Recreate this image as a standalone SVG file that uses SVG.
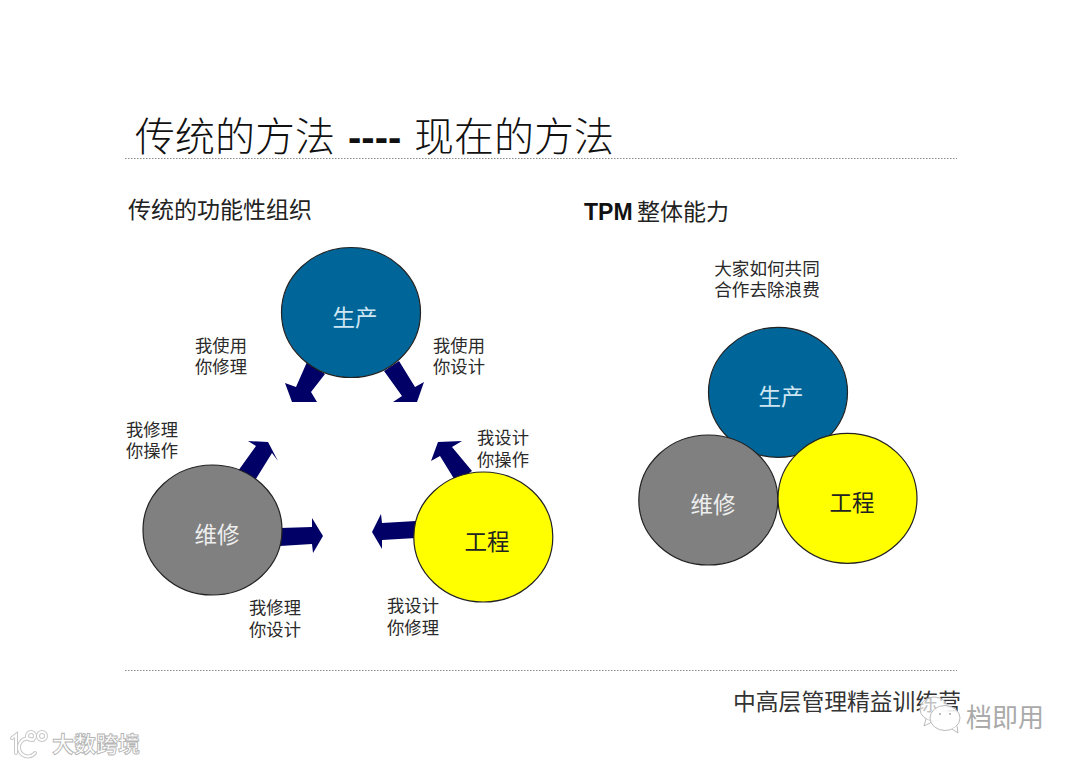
<svg xmlns="http://www.w3.org/2000/svg" width="1080" height="764" viewBox="0 0 1080 764">
<style>
text{font-family:"Liberation Sans","Noto Sans CJK SC",sans-serif;fill:#222}
.c{font-family:"Noto Sans CJK SC","Liberation Sans",sans-serif}
.title{font-size:40px;fill:#111;font-weight:300}
.sub{font-size:23px}
.lbl{font-size:17.300px;text-anchor:middle;fill:#2a2a2a}
.node{font-size:22.500px;text-anchor:middle}
.rule{stroke:#8a8a8a;stroke-width:1.2;stroke-dasharray:1.5 1.5;fill:none}
.arr{fill:#000066}
.circ{stroke:#222;stroke-width:1.2}
.blue{fill:#006699}.grey{fill:#808080}.yel{fill:#ffff00}
.wm{fill:#fff;stroke:#b5b5b5;stroke-width:.9}
.wo{fill:none;stroke:#c8c8c8;stroke-width:4;stroke-linecap:round}
.wl{fill:none;stroke:#fff;stroke-width:2;stroke-linecap:round}
</style>
<rect width="1080" height="764" fill="#fff"/>
<g id="title">
<text class="c title" x="135" y="151">传统的方法</text>
<text class="title" x="348" y="151" style="font-weight:700">----</text>
<text class="c title" x="414" y="151">现在的方法</text>
</g>
<g id="rules">
<line class="rule" x1="125" y1="158.500" x2="957" y2="158.500"/>
<line class="rule" x1="125" y1="670.500" x2="957" y2="670.500"/>
</g>
<text class="c sub" x="128" y="218">传统的功能性组织</text>
<text class="sub" x="584" y="220" style="font-weight:700;fill:#111">TPM</text>
<text class="c sub" x="637" y="220">整体能力</text>
<g id="connectors">
<polygon class="arr" points="307,362 325,374 311,392 317,402 292,402 285,383 296,387"/>
<polygon class="arr" points="399,361 384,371 402,396 393,402 417,402 424,382 415,387"/>
<polygon class="arr" points="238,471 254,482 272,453 278,461 268,442 248,441 256,446"/>
<polygon class="arr" points="472,471 456,482 440,456 431,461 438,442 462,441 452,447"/>
<polygon class="arr" points="280,528 312,527 312,518 323,536 313,553 312,544 280,546"/>
<polygon class="arr" points="416,521 382,523 381,514 372,532 382,549 382,540 416,538"/>
</g>
<g id="left-production"><ellipse class="circ blue" cx="351" cy="312.500" rx="69.500" ry="65"/><text class="c node" x="355" y="326" style="fill:#cfe6f2">生产</text></g>
<g id="left-maintenance"><ellipse class="circ grey" cx="212.500" cy="530" rx="69.500" ry="65"/><text class="c node" x="217" y="543" style="fill:#eee">维修</text></g>
<g id="left-engineering"><ellipse class="circ yel" cx="483.300" cy="537" rx="69.500" ry="65"/><text class="c node" x="487" y="550" style="fill:#222">工程</text></g>
<g id="labels">
<text class="c lbl" x="221" y="352">我使用</text><text class="c lbl" x="221" y="373">你修理</text>
<text class="c lbl" x="459" y="352">我使用</text><text class="c lbl" x="459" y="373">你设计</text>
<text class="c lbl" x="152" y="436">我修理</text><text class="c lbl" x="152" y="457">你操作</text>
<text class="c lbl" x="503" y="444">我设计</text><text class="c lbl" x="503" y="466">你操作</text>
<text class="c lbl" x="275" y="614">我修理</text><text class="c lbl" x="275" y="636">你设计</text>
<text class="c lbl" x="413" y="612">我设计</text><text class="c lbl" x="413" y="634">你修理</text>
<text class="c lbl" x="767" y="275" style="font-size:17.600px">大家如何共同</text><text class="c lbl" x="767" y="296" style="font-size:17.600px">合作去除浪费</text>
</g>
<g id="right-production"><ellipse class="circ blue" cx="778" cy="392.300" rx="69.500" ry="65"/><text class="c node" x="781" y="405" style="fill:#cfe6f2">生产</text></g>
<g id="right-maintenance"><ellipse class="circ grey" cx="708.300" cy="500" rx="69.500" ry="65"/><text class="c node" x="713" y="513" style="fill:#eee">维修</text></g>
<g id="right-engineering"><ellipse class="circ yel" cx="847.500" cy="498.300" rx="69.500" ry="65"/><text class="c node" x="852" y="511" style="fill:#222">工程</text></g>
<text class="c" x="733" y="710" style="font-size:22.800px;fill:#333">中高层管理精益训练营</text>
<g id="watermark-right">
<ellipse cx="934" cy="709" rx="14" ry="12" fill="#fff" fill-opacity=".7" stroke="#bbb" stroke-width="1"/>
<path d="M926 719l-2 7 8-4" fill="#fff" stroke="#bbb" stroke-width="1"/>
<ellipse cx="945" cy="718" rx="15" ry="12.500" fill="#fff" fill-opacity=".9" stroke="#bbb" stroke-width="1"/>
<path d="M952 729l6 4-1-7" fill="#fff" stroke="#bbb" stroke-width="1"/>
<circle cx="940" cy="714" r="1" fill="#aaa"/><circle cx="950" cy="714" r="1" fill="#aaa"/>
<text class="c" x="966" y="727" style="font-size:26px;fill:#aaa">档即用</text>
</g>
<g id="watermark-left">
<path class="wo" d="M12 738l4 -3v18M33 740a9 9 0 1 0 2 13"/>
<circle class="wo" cx="31" cy="736" r="4"/><circle class="wo" cx="42" cy="736" r="4"/>
<path class="wl" d="M12 738l4 -3v18M33 740a9 9 0 1 0 2 13"/>
<circle class="wl" cx="31" cy="736" r="4"/><circle class="wl" cx="42" cy="736" r="4"/>
<text class="c wm" x="52" y="752" style="font-size:22px;font-weight:700">大数跨境</text>
</g>
</svg>
